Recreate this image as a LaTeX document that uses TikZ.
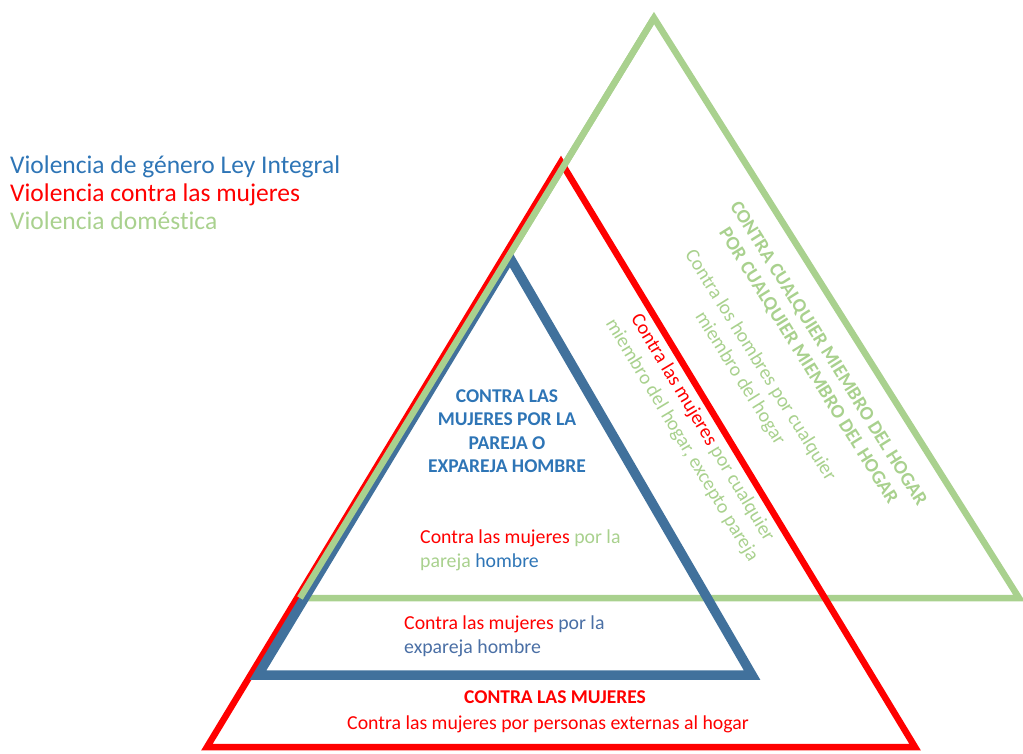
\documentclass[tikz,border=0pt]{standalone}
\usepackage{fontspec}
\setmainfont[Ligatures=NoCommon,RawFeature={-liga;-clig;-dlig;-calt}]{Carlito}
\definecolor{vgBlue}{HTML}{41719C}
\definecolor{vgText}{HTML}{2E75B6}
\definecolor{vgMid}{HTML}{4A6FA5}
\definecolor{vgRed}{HTML}{FF0000}
\definecolor{vgGreen}{HTML}{A9D18E}
\tikzset{
  side/.style={line width=6.5pt, line join=miter},
  legend/.style={anchor=base west, inner sep=0pt, font=\fontsize{25.5}{28}\selectfont},
  label/.style={inner sep=0pt, font=\fontsize{19.8}{24}\selectfont},
  heading/.style={inner sep=0pt, font=\fontsize{19.5}{23.5}\selectfont\bfseries}
}
\begin{document}
\begin{tikzpicture}[x=1pt,y=-1pt]
\useasboundingbox (0,0) rectangle (1023,753);

% triangulos
\draw[side, vgGreen] (654,18) -- (1019,598) -- (300,598) -- cycle;
\draw[side, vgRed] (561,162) -- (915,747) -- (207,747) -- cycle;
\draw[side, vgBlue, line width=9.5pt] (510,258) -- (752,675) -- (258,675) -- cycle;
\draw[side, vgGreen] (654,18) -- (300,598);

% leyenda
\node[legend, text=vgText] (leyIntegral) at (10,173) {Violencia de género Ley Integral};
\node[legend, text=vgRed] (contraMujeres) at (10,201) {Violencia contra las mujeres};
\node[legend, text=vgGreen] (domestica) at (10,229) {Violencia doméstica};

% triangulo azul
\node[heading, text=vgText, align=center] (pareja) at (507,431)
  {CONTRA LAS\\MUJERES POR LA\\PAREJA O\\EXPAREJA HOMBRE};
\node[label, align=left, anchor=west] (parejaTxt) at (420,550)
  {\textcolor{vgRed}{Contra las mujeres} \textcolor{vgGreen}{por la}\\
   \textcolor{vgGreen}{pareja} \textcolor{vgText}{hombre}};
\node[label, align=left, anchor=west] (exparejaTxt) at (404,636)
  {\textcolor{vgRed}{Contra las mujeres} \textcolor{vgMid}{por la}\\
   \textcolor{vgMid}{expareja hombre}};

% triangulo rojo
\node[heading, text=vgRed] (mujeres) at (555,697) {CONTRA LAS MUJERES};
\node[label, text=vgRed] (externas) at (548,724) {Contra las mujeres por personas externas al hogar};
\node[label, align=center, rotate=-59] (excepto) at (692,434)
  {\textcolor{vgRed}{Contra las mujeres} \textcolor{vgGreen}{por cualquier}\\
   \textcolor{vgGreen}{miembro del hogar, excepto pareja}};

% triangulo verde
\node[heading, text=vgGreen, align=center, rotate=-58] (hogar) at (818,360)
  {CONTRA CUALQUIER MIEMBRO DEL HOGAR\\POR CUALQUIER MIEMBRO DEL HOGAR};
\node[label, text=vgGreen, align=center, rotate=-58] (hombres) at (750,372)
  {Contra los hombres por cualquier\\miembro del hogar};
\end{tikzpicture}
\end{document}
